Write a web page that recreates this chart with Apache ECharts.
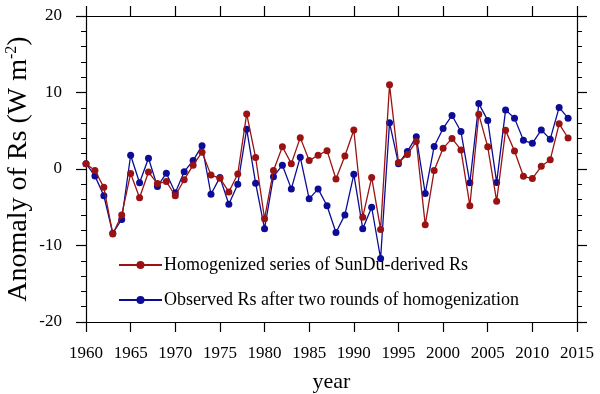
<!DOCTYPE html>
<html lang="en">
<head>
    <meta charset="UTF-8" />
    <title>Anomaly of Rs</title>
    <script src="https://cdn.jsdelivr.net/npm/echarts@6/dist/echarts.min.js"></script>
    <style>
        html, body { margin: 0; padding: 0; background: #fff; }
        #chart { width: 600px; height: 394px; }
    </style>
</head>
<body>
    <div id="chart"></div>
    <script type="text/javascript">
        // years 1960..2014
        const years = [];
        for (let y = 1960; y <= 2014; y++) years.push(y);

        // SunDu-derived Rs anomaly (red)
        const sunduRs = [
            0.7, -0.2, -2.4, -8.5, -6.0, -0.6, -3.75, -0.4, -1.9, -1.65,
            -3.5, -1.4, 0.5, 2.2, -0.8, -1.2, -3.0, -0.65, 7.2, 1.5,
            -6.5, -0.2, 2.9, 0.7, 4.1, 1.1, 1.8, 2.4, -1.3, 1.7,
            5.1, -6.3, -1.1, -7.9, 11.0, 0.85, 1.9, 3.6, -7.3, -0.2,
            2.7, 4.0, 2.5, -4.8, 7.15, 2.9, -4.2, 5.05, 2.35, -0.95,
            -1.25, 0.35, 1.2, 5.9, 4.05
        ];
        // observed Rs anomaly (blue)
        const observedRs = [
            0.7, -0.9, -3.5, -8.4, -6.6, 1.8, -1.8, 1.4, -2.3, -0.55,
            -3.1, -0.35, 1.1, 3.05, -3.3, -1.1, -4.6, -2.0, 5.2, -1.85,
            -7.8, -1.0, 0.5, -2.6, 1.55, -3.9, -2.6, -4.8, -8.3, -6.0,
            -0.7, -7.8, -5.0, -11.7, 6.05, 0.7, 2.3, 4.2, -3.2, 2.95,
            5.3, 7.0, 4.9, -1.8, 8.55, 6.35, -1.75, 7.7, 6.65, 3.75,
            3.35, 5.1, 3.9, 8.05, 6.65
        ];

        const redName = 'Homogenized series of SunDu-derived Rs';
        const blueName = 'Observed Rs after two rounds of homogenization';
        const font = 'Liberation Serif';

        function pairs(vals) {
            return vals.map((v, i) => [years[i], v]);
        }

        const tickCommon = { show: true, inside: false, length: 10, lineStyle: { color: '#000', width: 1.2 } };
        const lineCommon = { show: true, onZero: false, lineStyle: { color: '#000', width: 1.2 } };
        const minorCommon = { show: true, splitNumber: 5, length: 5, lineStyle: { color: '#000', width: 1 } };

        let chart = echarts.init(document.getElementById('chart'), null, { renderer: 'canvas' });
        chart.setOption({
            animation: false,
            backgroundColor: '#fff',
            grid: { left: 86, right: 23, top: 16, bottom: 72, containLabel: false, outerBoundsMode: 'none' },
            legend: {
                data: [redName, blueName],
                orient: 'vertical',
                left: 118, top: 256, padding: 0,
                itemWidth: 43, itemHeight: 10, itemGap: 17,
                textStyle: { fontFamily: font, fontSize: 18, color: '#000', padding: [0, 0, 0, -3] }
            },
            xAxis: [{
                type: 'value', min: 1960, max: 2015, interval: 5,
                axisLine: lineCommon, axisTick: tickCommon,
                splitLine: { show: false },
                axisLabel: { margin: 23, fontFamily: font, fontSize: 17, color: '#000', formatter: v => String(v) },
                name: 'year', nameLocation: 'middle', nameGap: 49, nameMoveOverlap: false,
                nameTextStyle: { fontFamily: font, fontSize: 22, color: '#000' }
            }, {
                type: 'value', position: 'top', min: 1960, max: 2015, interval: 5,
                axisLine: lineCommon, axisTick: tickCommon,
                splitLine: { show: false }, axisLabel: { show: false }
            }],
            yAxis: [{
                type: 'value', min: -20, max: 20, interval: 10,
                axisLine: lineCommon, axisTick: tickCommon, minorTick: minorCommon,
                splitLine: { show: false },
                axisLabel: { margin: 24, fontFamily: font, fontSize: 17, color: '#000' },
                name: 'Anomaly of Rs (W m{sup|-2})', nameLocation: 'middle', nameGap: 52, nameRotate: 90,
                nameMoveOverlap: false,
                nameTextStyle: {
                    fontFamily: font, fontSize: 28, color: '#000',
                    rich: { sup: { fontFamily: font, fontSize: 16, color: '#000', verticalAlign: 'top', lineHeight: 30 } }
                }
            }, {
                type: 'value', position: 'right', min: -20, max: 20, interval: 10,
                axisLine: lineCommon, axisTick: tickCommon, minorTick: minorCommon,
                splitLine: { show: false }, axisLabel: { show: false }
            }],
            series: [{
                name: blueName, type: 'line', data: pairs(observedRs),
                symbol: 'circle', symbolSize: 7, z: 2,
                itemStyle: { color: '#0c0c96' },
                lineStyle: { color: '#0c0c96', width: 1.3 }
            }, {
                name: redName, type: 'line', data: pairs(sunduRs),
                symbol: 'circle', symbolSize: 7, z: 3,
                itemStyle: { color: '#9a1212' },
                lineStyle: { color: '#9a1212', width: 1.3 }
            }]
        });
    </script>
</body>
</html>
